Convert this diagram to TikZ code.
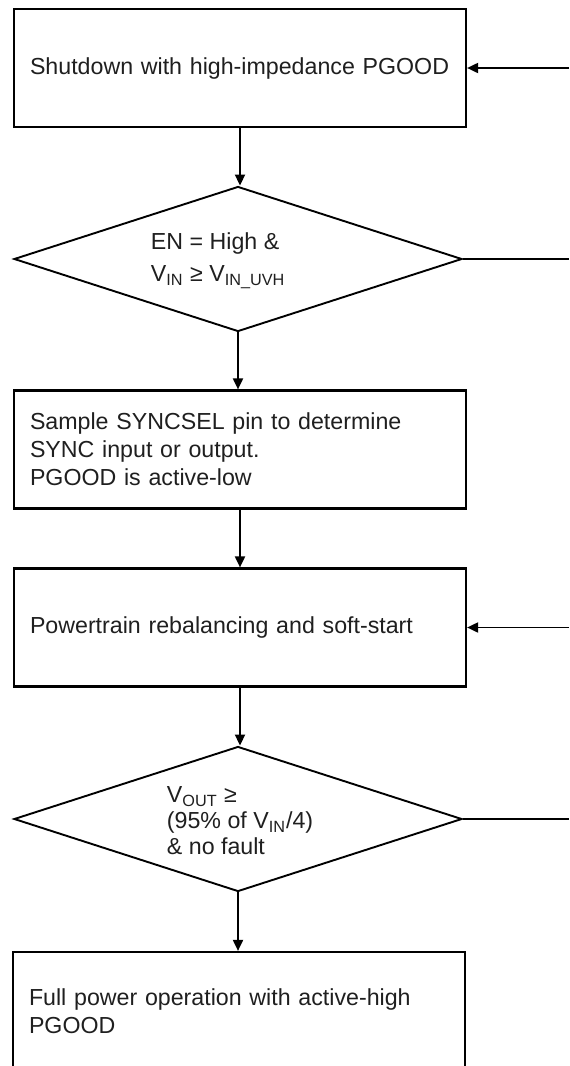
\documentclass[tikz,border=0pt]{standalone}
\usepackage{fontspec}
\setmainfont{Liberation Sans}
\usetikzlibrary{shapes.geometric,arrows.meta}
\begin{document}
\begin{tikzpicture}[x=0.5pt, y=-0.5pt, line width=0.95pt,
	every node/.style={font=\fontsize{11.6}{14}\selectfont, text=black!88},
	stepbox/.style={draw, line width=1.1pt, minimum width=226pt, minimum height=59pt, inner xsep=8pt, text width=210pt, align=left},
	check/.style={draw, diamond, minimum width=224pt, minimum height=72.5pt, inner sep=0pt},
	note/.style={anchor=west, align=left, inner sep=0pt},
	arr/.style={-{Triangle[length=5.5pt,width=5pt]}}]
	\useasboundingbox (0,0) rectangle (569,1066);
	\node[stepbox] (shdn) at (240,68) {Shutdown with high-impedance PGOOD};
	\node[check] (en) at (238,259) {};
	\node[note] (entxt) at (150,261) {EN = High \&\\[2pt]V\textsubscript{IN} ≥ V\textsubscript{IN\_UVH}};
	\node[stepbox] (sync) at (240,449.5) {Sample SYNCSEL pin to determine\\SYNC input or output.\\PGOOD is active-low};
	\node[stepbox] (soft) at (240,627.5) {Powertrain rebalancing and soft-start};
	\node[check] (good) at (238,819) {};
	\node[note] (goodtxt) at (166,821) {V\textsubscript{OUT} ≥\\[-1pt](95\% of V\textsubscript{IN}/4)\\[-1pt]\& no fault};
	\node[stepbox] (full) at (239,1011) {Full power operation with active-high\\PGOOD};

	\coordinate (in1) at (569,68);
	\coordinate (out1) at (569,259);
	\coordinate (in2) at (569,627.5);
	\coordinate (out2) at (569,819);

	\foreach \a/\b in {shdn/en, en/sync, sync/soft, soft/good, good/full}
		\draw[arr] (\a.south) -- (\a.south |- \b.north);
	\foreach \c/\n in {in1/shdn, in2/soft}
		\draw[arr] (\c) -- (\n.east);
	\foreach \n/\c in {en/out1, good/out2}
		\draw (\n.east) -- (\c);
\end{tikzpicture}
\end{document}
